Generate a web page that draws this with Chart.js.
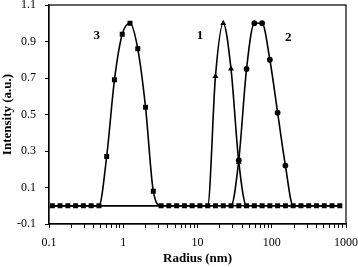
<!DOCTYPE html>
<html>
<head>
<meta charset="utf-8">
<script src="https://cdn.jsdelivr.net/npm/chart.js@4.4.0/dist/chart.umd.min.js"></script>
<style>
  html, body { margin: 0; padding: 0; background: #fff; }
  #wrap { width: 358px; height: 267px; }
</style>
</head>
<body>
<div id="wrap"><canvas id="chart"></canvas></div>
<script>
// --- Data ---
const radius = [0.1108, 0.1409, 0.1794, 0.2282, 0.2904, 0.3695, 0.4702, 0.5982, 0.7614, 0.9687,
                1.233, 1.569, 1.996, 2.540, 3.232, 4.113, 5.233, 6.660, 8.475, 10.78,
                13.72, 17.46, 22.22, 28.27, 35.97, 45.78, 58.25, 74.13, 94.32, 120.0,
                152.8, 194.3, 247.4, 314.7, 400.5, 509.5, 648.5, 825.0];

const intensity3 = [0, 0, 0, 0, 0, 0, 0, 0.27, 0.69, 0.94,
                    1.0, 0.86, 0.54, 0.08, 0, 0, 0, 0, 0, 0,
                    0, 0, 0, 0, 0, 0, 0, 0, 0, 0,
                    0, 0, 0, 0, 0, 0, 0, 0];

const intensity1 = [0, 0, 0, 0, 0, 0, 0, 0, 0, 0,
                    0, 0, 0, 0, 0, 0, 0, 0, 0, 0,
                    0, 0.71, 1.0, 0.75, 0.24, 0, 0, 0, 0, 0,
                    0, 0, 0, 0, 0, 0, 0, 0];

const intensity2 = [0, 0, 0, 0, 0, 0, 0, 0, 0, 0,
                    0, 0, 0, 0, 0, 0, 0, 0, 0, 0,
                    0, 0, 0, 0, 0.25, 0.75, 1.0, 1.0, 0.80, 0.51,
                    0.22, 0, 0, 0, 0, 0, 0, 0];

const xTicks = [0.1, 1, 10, 100, 1000];
const yTicks = [-0.1, 0.1, 0.3, 0.5, 0.7, 0.9, 1.1];

// peak numbers, anchored in data coordinates
const peakNames = ['3', '1', '2'];
const peakNameX = [0.44, 10.8, 167];
const peakNameY = [0.93, 0.93, 0.92];

// --- Helpers ---
const toPoints = vals => radius.map((r, i) => ({ x: r, y: vals[i] }));
const isDecade = v => Math.abs(Math.log10(v) - Math.round(Math.log10(v))) < 1e-6;

// minor ticks 2..9 inside each decade
function buildLogTicks() {
    const out = [];
    for (let d = 0; d < xTicks.length; d++) {
        out.push({ value: xTicks[d] });
        if (d < xTicks.length - 1) {
            for (let m = 2; m <= 9; m++) out.push({ value: xTicks[d] * m });
        }
    }
    return out;
}

const framePlugin = {
    id: 'frame',
    afterDatasetsDraw(chart) {
        const { ctx, chartArea: a, scales } = chart;
        ctx.save();
        ctx.strokeStyle = '#000';
        ctx.lineWidth = 1.2;
        ctx.strokeRect(a.left, a.top, a.right - a.left, a.bottom - a.top);
        ctx.fillStyle = '#000';
        ctx.font = 'bold 13px "Liberation Serif"';
        ctx.textAlign = 'center';
        ctx.textBaseline = 'middle';
        peakNames.forEach((t, i) => {
            ctx.fillText(t, scales.x.getPixelForValue(peakNameX[i]), scales.y.getPixelForValue(peakNameY[i]));
        });
        ctx.restore();
    }
};

Chart.defaults.font.family = '"Liberation Serif", "Times New Roman", serif';
Chart.defaults.color = '#000';

const hideZero = r => ctx => (ctx.raw && ctx.raw.y === 0 ? 0 : r);

new Chart(document.getElementById('chart'), {
    type: 'line',
    data: {
        datasets: [
            {
                label: '3',
                data: toPoints(intensity3),
                borderColor: '#000',
                backgroundColor: '#000',
                borderWidth: 1.6,
                pointStyle: 'rect',
                pointRadius: 2.4,
                pointHoverRadius: 2.4,
                cubicInterpolationMode: 'monotone'
            },
            {
                label: '1',
                data: toPoints(intensity1),
                borderColor: '#000',
                backgroundColor: '#000',
                borderWidth: 1.6,
                pointStyle: 'triangle',
                pointRadius: hideZero(1.8),
                cubicInterpolationMode: 'monotone'
            },
            {
                label: '2',
                data: toPoints(intensity2),
                borderColor: '#000',
                backgroundColor: '#000',
                borderWidth: 1.6,
                pointStyle: 'circle',
                pointRadius: hideZero(2.1),
                cubicInterpolationMode: 'monotone'
            }
        ]
    },
    options: {
        responsive: true,
        maintainAspectRatio: false,
        animation: false,
        events: [],
        layout: { padding: { top: 5, right: 12, left: 0, bottom: 0 } },
        plugins: {
            legend: { display: false },
            tooltip: { enabled: false }
        },
        scales: {
            x: {
                type: 'logarithmic',
                min: 0.1,
                max: 1000,
                afterFit: s => { s.height = 43; s.paddingLeft = 0; s.paddingRight = 0; },
                afterBuildTicks: s => { s.ticks = buildLogTicks(); },
                border: { color: '#000', width: 1.2 },
                grid: { drawOnChartArea: false, tickLength: 4, tickColor: '#000' },
                ticks: {
                    autoSkip: false,
                    maxRotation: 0,
                    padding: 8,
                    font: { size: 12 },
                    callback: v => (isDecade(v) ? String(v) : '')
                },
                title: {
                    display: true,
                    text: 'Radius (nm)',
                    font: { size: 13, weight: 'bold' },
                    padding: { top: 0, bottom: 1 }
                }
            },
            y: {
                min: -0.1,
                max: 1.1,
                afterFit: s => { s.width = 49; s.paddingTop = 0; s.paddingBottom = 0; },
                afterBuildTicks: s => { s.ticks = yTicks.map(v => ({ value: v })); },
                border: { color: '#000', width: 1.2 },
                grid: { drawOnChartArea: false, tickLength: 4, tickColor: '#000' },
                ticks: {
                    padding: 9,
                    font: { size: 12 },
                    callback: v => v.toFixed(1)
                },
                title: {
                    display: true,
                    text: 'Intensity (a.u.)',
                    font: { size: 13, weight: 'bold' },
                    padding: { top: 0, bottom: 0 }
                }
            }
        }
    },
    plugins: [framePlugin]
});
</script>
</body>
</html>
